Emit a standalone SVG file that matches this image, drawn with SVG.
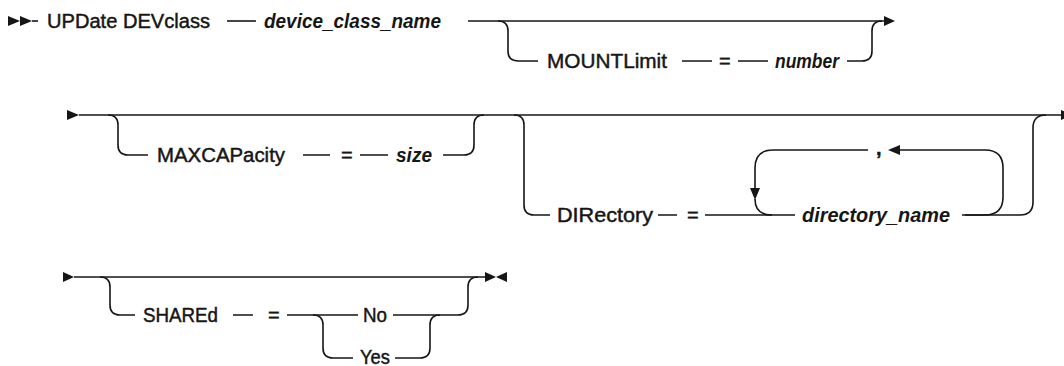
<svg xmlns="http://www.w3.org/2000/svg" width="1064" height="366" viewBox="0 0 1064 366">
<style>
.ln{fill:none;stroke:#161616;stroke-width:1.6}
.ah{fill:#161616;stroke:none}
.kw{font-family:"Liberation Sans",Arial,sans-serif;font-size:20px;fill:#161616;stroke:#161616;stroke-width:0.45}
.var{font-family:"Liberation Sans",Arial,sans-serif;font-size:20px;font-style:italic;font-weight:bold;fill:#161616}
</style>
<rect width="1064" height="366" fill="#ffffff"/>
<g id="connectors">
<!-- row 1 -->
<polygon class="ah" points="8,16 20,21 8,26"/>
<polygon class="ah" points="20,16 32,21 20,26"/>
<path class="ln" d="M32 21 H38"/>
<path class="ln" d="M227 21 H256"/>
<path class="ln" d="M468 21 H884"/>
<polygon class="ah" points="884,16 895,21 884,26"/>
<path class="ln" d="M498 21 q10 0 10 10 v20 q0 10 10 10 h20"/>
<path class="ln" d="M682 61 H712 M738 61 H768"/>
<path class="ln" d="M847 61 h15 q10 0 10 -10 v-20 q0 -10 10 -10"/>
<!-- row 2 -->
<polygon class="ah" points="67,110 79,115 67,120"/>
<path class="ln" d="M79 115 H1061"/>
<polygon class="ah" points="1061,110 1072,115 1061,120"/>
<path class="ln" d="M108 115 q10 0 10 10 v20 q0 10 10 10 h20"/>
<path class="ln" d="M303 155 H330 M360 155 H388"/>
<path class="ln" d="M443 155 h21 q10 0 10 -10 v-20 q0 -10 10 -10"/>
<path class="ln" d="M514 115 q10 0 10 10 v80 q0 10 10 10 h16"/>
<path class="ln" d="M658 215 H677 M705 215 H795"/>
<path class="ln" d="M962 215 H1020 q13 0 13 -13 v-74 q0 -13 13 -13"/>
<path class="ln" d="M965 215 h20 q18 0 18 -18 v-29 q0 -18 -18 -18 h-85"/>
<polygon class="ah" points="888,150 900,145 900,155"/>
<path class="ln" d="M868 150 H773 q-18 0 -18 18 v20"/>
<polygon class="ah" points="750,188 760,188 755,200"/>
<path class="ln" d="M755 199 q0 16 17 16"/>
<!-- row 3 -->
<polygon class="ah" points="63,272 74,277 63,282"/>
<path class="ln" d="M74 277 H485"/>
<polygon class="ah" points="485,272 496,277 485,282"/>
<polygon class="ah" points="507,272 496,277 507,282"/>
<path class="ln" d="M100 277 q10 0 10 10 v18 q0 10 10 10 h15"/>
<path class="ln" d="M233 315 H253 M287 315 H358"/>
<path class="ln" d="M313 315 q10 0 10 10 v23 q0 10 10 10 h20"/>
<path class="ln" d="M393 315 h65 q10 0 10 -10 v-18 q0 -10 10 -10"/>
<path class="ln" d="M395 358 h25 q10 0 10 -10 v-23 q0 -10 10 -10"/>
</g>
<g id="n-update"><text class="kw" x="47" y="28" textLength="163" lengthAdjust="spacingAndGlyphs">UPDate DEVclass</text></g>
<g id="n-device-class-name"><text class="var" x="264" y="28" textLength="177" lengthAdjust="spacingAndGlyphs">device_class_name</text></g>
<g id="n-mountlimit"><text class="kw" x="547" y="68" textLength="120" lengthAdjust="spacingAndGlyphs">MOUNTLimit</text></g>
<g id="n-eq1"><text class="kw" x="719" y="68">=</text></g>
<g id="n-number"><text class="var" x="775" y="68" textLength="64" lengthAdjust="spacingAndGlyphs">number</text></g>
<g id="n-maxcapacity"><text class="kw" x="157" y="162" textLength="128" lengthAdjust="spacingAndGlyphs">MAXCAPacity</text></g>
<g id="n-eq2"><text class="kw" x="341" y="162">=</text></g>
<g id="n-size"><text class="var" x="396" y="162" textLength="36" lengthAdjust="spacingAndGlyphs">size</text></g>
<g id="n-directory"><text class="kw" x="557" y="222" textLength="96" lengthAdjust="spacingAndGlyphs">DIRectory</text></g>
<g id="n-eq3"><text class="kw" x="687" y="222">=</text></g>
<g id="n-directory-name"><text class="var" x="802" y="222" textLength="148" lengthAdjust="spacingAndGlyphs">directory_name</text></g>
<g id="n-comma"><text class="kw" x="876" y="155" font-weight="bold">,</text></g>
<g id="n-shared"><text class="kw" x="143" y="322" textLength="75" lengthAdjust="spacingAndGlyphs">SHAREd</text></g>
<g id="n-eq4"><text class="kw" x="268" y="322">=</text></g>
<g id="n-no"><text class="kw" x="363" y="322" textLength="24" lengthAdjust="spacingAndGlyphs">No</text></g>
<g id="n-yes"><text class="kw" x="360" y="364" textLength="30" lengthAdjust="spacingAndGlyphs">Yes</text></g>
</svg>
